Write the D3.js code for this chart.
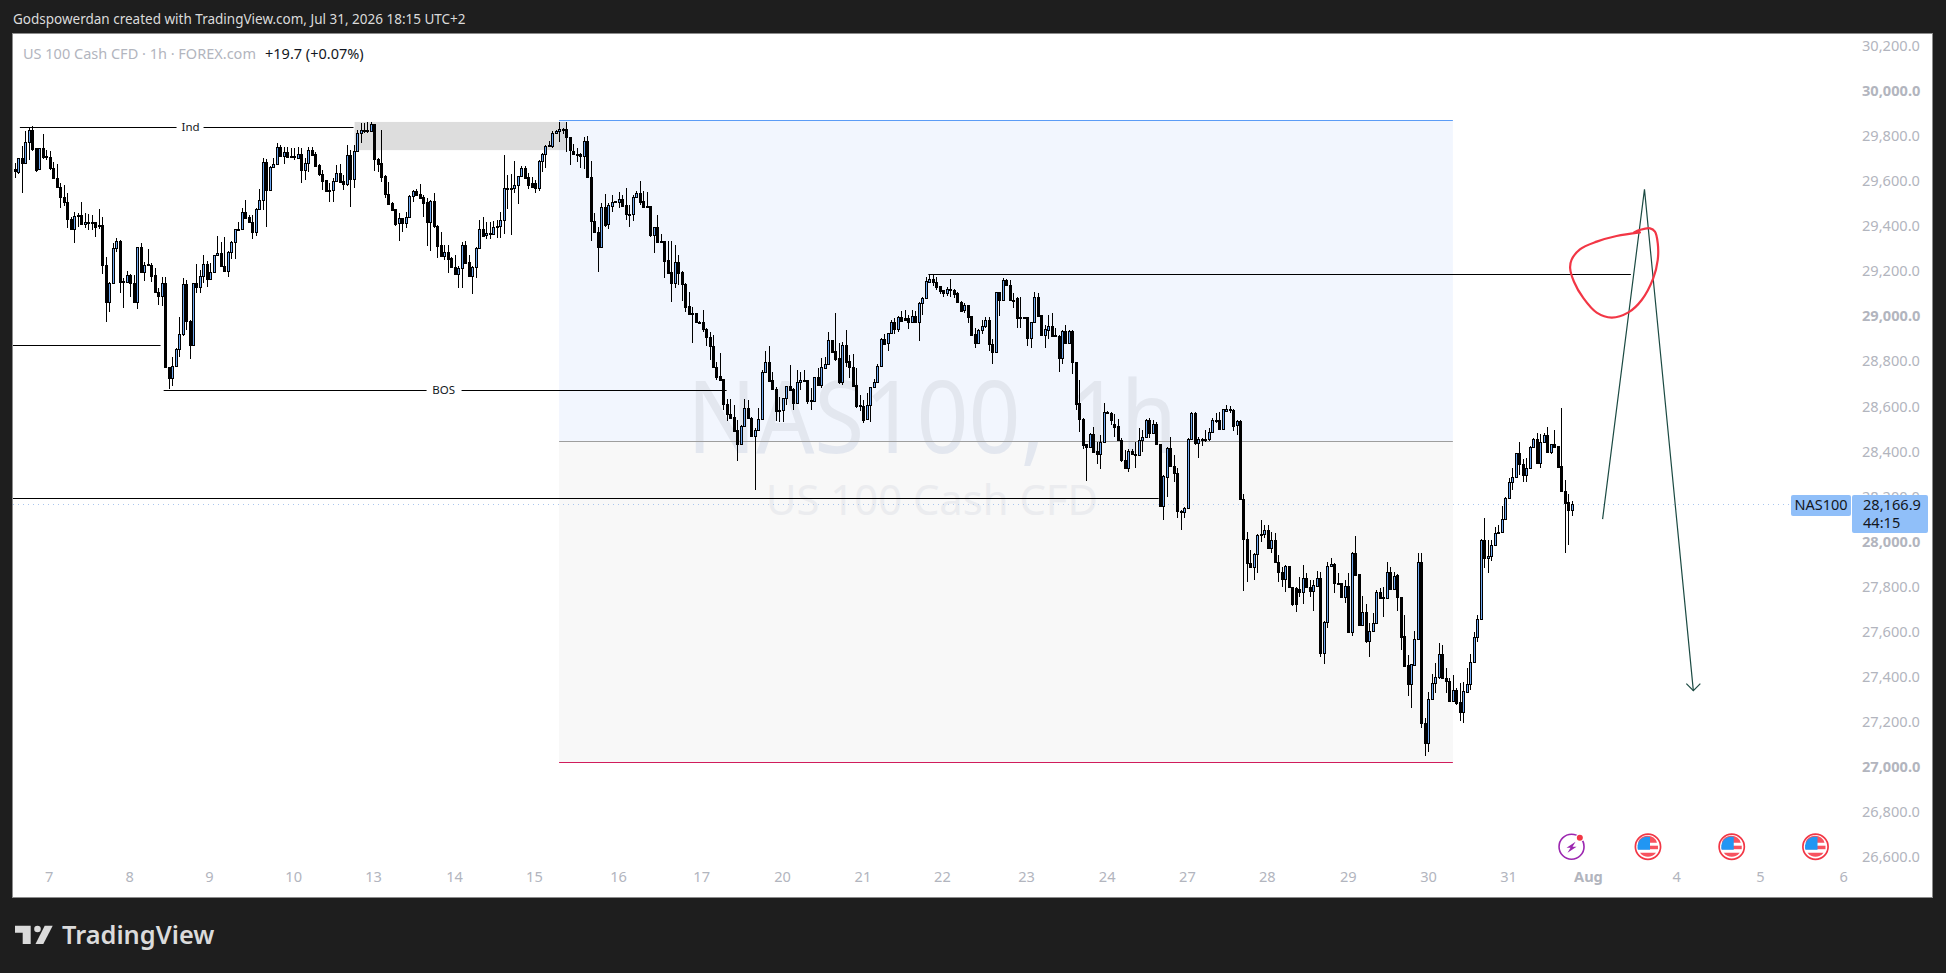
<!DOCTYPE html>
<html><head><meta charset="utf-8">
<script src="https://cdn.jsdelivr.net/npm/d3@7/dist/d3.min.js"></script>
<style>
html,body{margin:0;padding:0;background:#1e1e1e;overflow:hidden}
svg{display:block}
text{font-family:"Noto Sans",sans-serif}
</style></head><body>
<svg id="c" width="1946" height="973"></svg>
<script>
// Hourly candles [open, high, low, close], one small list per session
const s06=[[29652,29679,29612,29645],[29642,29704,29630,29701],[29701,29757,29548,29681],[29681,29822,29681,29775],[29775,29837,29693,29825],[29825,29844,29735,29741],[29745,29745,29642,29649],[29652,29748,29649,29745],[29745,29809,29696,29708],[29710,29738,29693,29705]];
const s07=[[29705,29733,29649,29656],[29656,29686,29608,29612],[29612,29674,29571,29575],[29575,29590,29482,29531],[29531,29582,29491,29505],[29505,29545,29390,29430],[29430,29442,29383,29386],[29386,29464,29324,29446],[29449,29457,29398,29446],[29449,29505,29405,29408],[29408,29457,29393,29417],[29418,29452,29383,29420],[29420,29449,29383,29420],[29417,29420,29353,29398],[29399,29476,29387,29405],[29405,29442,29186,29229],[29229,29264,28976,29065],[29065,29153,29017,29149],[29149,29324,29146,29301],[29301,29346,29284,29334],[29334,29337,29102,29153],[29158,29171,29038,29153],[29153,29201,29149,29182]];
const s08=[[29182,29186,29087,29146],[29146,29183,29057,29065],[29065,29309,29032,29306],[29306,29325,29195,29198],[29198,29239,29156,29226],[29230,29298,29224,29226],[29229,29235,29153,29180],[29182,29213,29106,29109],[29109,29124,29050,29091],[29091,29176,29047,29146],[29146,29176,28769,28773],[28773,28773,28677,28725],[28725,28821,28692,28781],[28781,28858,28776,28853],[28853,28998,28821,28920],[28920,29171,28914,29142],[29142,29161,28939,28980],[28980,28983,28810,28872],[28872,29149,28870,29146],[29146,29232,29102,29128],[29128,29205,29105,29180],[29180,29272,29146,29230],[29230,29245,29131,29164]];
const s09=[[29164,29235,29161,29198],[29198,29272,29195,29270],[29270,29358,29269,29279],[29279,29331,29220,29224],[29224,29353,29198,29202],[29202,29290,29176,29284],[29284,29334,29254,29329],[29329,29387,29254,29386],[29386,29420,29383,29387],[29387,29479,29383,29461],[29461,29516,29432,29437],[29440,29449,29417,29420],[29420,29449,29343,29375],[29375,29479,29358,29474],[29474,29565,29472,29516],[29516,29704,29472,29686],[29686,29698,29398,29562],[29562,29668,29559,29664],[29664,29701,29661,29674],[29674,29767,29671,29750],[29750,29760,29708,29713],[29713,29750,29676,29727],[29727,29750,29705,29708],[29708,29745,29705,29710]];
const s10=[[29710,29745,29695,29710],[29704,29750,29701,29718],[29718,29745,29593,29650],[29650,29704,29605,29679],[29679,29750,29642,29736],[29736,29750,29712,29715],[29718,29727,29664,29667],[29670,29674,29624,29630],[29630,29649,29560,29602],[29605,29605,29550,29556],[29558,29590,29508,29559],[29559,29612,29508,29599],[29599,29671,29597,29634],[29634,29674,29594,29597],[29600,29627,29560,29585],[29585,29760,29579,29714],[29714,29738,29486,29608],[29608,29760,29571,29732],[29732,29826,29730,29812],[29812,29856,29767,29825],[29825,29856,29812,29825],[29825,29860,29812,29822],[29822,29860,29819,29853]];
const s13=[[29853,29853,29645,29696],[29696,29701,29639,29677],[29679,29826,29597,29619],[29622,29627,29526,29544],[29544,29597,29497,29500],[29501,29505,29470,29471],[29474,29477,29402,29409],[29412,29457,29334,29435],[29435,29438,29375,29415],[29415,29464,29390,29439],[29439,29538,29437,29532],[29532,29562,29505,29554],[29554,29565,29535,29538],[29541,29587,29523,29526],[29528,29538,29442,29504],[29507,29523,29313,29420],[29420,29516,29290,29511],[29511,29545,29390,29402],[29402,29405,29257,29313],[29316,29375,29263,29269],[29269,29316,29250,29284],[29284,29316,29190,29256],[29258,29264,29215,29217]];
const s14=[[29220,29272,29186,29189],[29189,29225,29124,29213],[29213,29331,29124,29315],[29315,29334,29232,29235],[29239,29272,29177,29180],[29180,29223,29100,29217],[29217,29306,29168,29301],[29301,29427,29298,29386],[29386,29442,29355,29358],[29361,29417,29343,29368],[29368,29420,29343,29366],[29364,29423,29361,29395],[29395,29427,29349,29399],[29399,29461,29349,29426],[29426,29715,29364,29568],[29568,29627,29476,29571],[29571,29630,29361,29568],[29568,29689,29547,29581],[29581,29624,29498,29621],[29621,29667,29618,29658],[29658,29668,29612,29615],[29617,29634,29565,29582],[29590,29619,29570,29574]];
const s15=[[29590,29605,29547,29571],[29571,29693,29556,29687],[29687,29723,29639,29720],[29720,29760,29659,29754],[29754,29778,29752,29758],[29755,29823,29745,29812],[29812,29826,29809,29822],[29822,29860,29772,29829],[29829,29834,29809,29830],[29829,29860,29730,29794],[29794,29797,29671,29738],[29735,29764,29718,29718],[29718,29745,29686,29720],[29720,29723,29656,29710],[29710,29795,29653,29776],[29776,29800,29616,29619],[29619,29689,29334,29423],[29423,29457,29372,29375],[29375,29398,29198,29309],[29309,29501,29304,29483],[29483,29542,29398,29405],[29408,29501,29387,29494],[29491,29538,29464,29505],[29505,29513,29505,29511]];
const s16=[[29508,29550,29482,29519],[29519,29538,29486,29491],[29494,29568,29427,29452],[29452,29494,29398,29452],[29452,29538,29423,29528],[29528,29556,29523,29545],[29545,29600,29494,29508],[29511,29556,29482,29486],[29486,29550,29486,29489],[29489,29491,29350,29361],[29361,29398,29281,29395],[29395,29449,29328,29331],[29333,29363,29331,29334],[29333,29334,29171,29247],[29248,29334,29190,29193],[29195,29334,29065,29149],[29149,29316,29127,29239],[29239,29272,29139,29193],[29196,29201,29068,29142],[29143,29146,29020,29043],[29044,29109,29006,29010],[29010,29043,28883,29013],[29013,29016,28973,28976],[28976,28980,28970,28976]];
const s17=[[28976,29028,28932,28942],[28942,28947,28870,28906],[28908,28932,28806,28867],[28868,28917,28773,28776],[28776,28799,28717,28732],[28733,28836,28717,28717],[28720,28720,28584,28612],[28612,28633,28537,28565],[28566,28633,28547,28550],[28551,28606,28491,28492],[28495,28540,28359,28433],[28433,28518,28432,28515],[28515,28631,28512,28592],[28592,28628,28544,28547],[28549,28555,28466,28470],[28470,28503,28229,28494],[28494,28592,28491,28543],[28543,28762,28540,28753],[28753,28846,28747,28796],[28796,28868,28710,28714],[28716,28754,28673,28676],[28677,28688,28537,28581],[28581,28643,28532,28584]];
const s20=[[28584,28639,28532,28636],[28636,28692,28606,28689],[28692,28784,28673,28674],[28677,28680,28584,28614],[28614,28762,28609,28707],[28707,28754,28673,28716],[28716,28762,28713,28716],[28716,28717,28611,28624],[28624,28680,28584,28628],[28624,28732,28621,28729],[28729,28769,28692,28695],[28695,28816,28680,28773],[28772,28821,28769,28787],[28787,28929,28784,28893],[28893,28895,28840,28843],[28844,29013,28801,28809],[28813,28880,28698,28710],[28710,28887,28695,28873],[28873,28939,28776,28799],[28801,28828,28725,28776],[28776,28832,28688,28692],[28695,28769,28594,28603],[28603,28651,28580,28606]];
const s21=[[28603,28628,28527,28539],[28542,28658,28541,28604],[28604,28687,28532,28684],[28684,28720,28680,28706],[28706,28786,28702,28779],[28779,28902,28776,28897],[28897,28921,28876,28878],[28880,28927,28847,28924],[28924,28983,28921,28973],[28973,28990,28919,28942],[28942,29001,28931,28995],[28995,29023,28978,28980],[28990,29027,28980,28983],[28990,29005,28942,28976],[28976,29027,28973,28999],[28999,29023,28973,28976],[28976,29064,28890,29058],[29057,29084,29005,29079],[29079,29175,29076,29156],[29153,29186,29150,29163],[29163,29186,29135,29150],[29150,29172,29116,29131],[29132,29135,29097,29112]];
const s22=[[29115,29116,29084,29101],[29101,29131,29089,29123],[29123,29165,29087,29115],[29116,29123,29082,29100],[29101,29106,29060,29063],[29064,29067,29020,29023],[29026,29060,29013,29050],[29050,29052,28971,28998],[29001,29002,28916,28918],[28919,28949,28857,28882],[28882,28942,28879,28939],[28937,28983,28919,28956],[28955,28998,28950,28983],[28983,28995,28847,28878],[28879,28899,28789,28842],[28842,29109,28839,29106],[29106,29109,29002,29070],[29070,29168,29067,29159],[29159,29165,29135,29138],[29138,29160,29067,29070],[29070,29101,29035,29070],[29083,29087,28949,28993],[28993,29087,28946,28995],[28995,28998,28990,28995]];
const s23=[[28995,28998,28868,28902],[28902,28976,28860,28973],[28973,29109,28968,29084],[29084,29101,29000,29002],[29004,29005,28913,28918],[28918,28961,28860,28942],[28940,29005,28899,28955],[28955,29013,28909,28913],[28915,28946,28909,28913],[28913,28916,28754,28816],[28816,28939,28788,28934],[28934,28961,28879,28882],[28882,28939,28879,28934],[28934,28939,28743,28795],[28797,28798,28584,28612],[28613,28717,28488,28542],[28542,28547,28411,28428],[28433,28433,28269,28421],[28421,28480,28418,28476],[28476,28510,28396,28399],[28402,28443,28343,28387],[28387,28473,28322,28443],[28443,28613,28440,28573]];
const s24=[[28573,28580,28568,28571],[28570,28576,28517,28539],[28522,28564,28465,28510],[28511,28544,28449,28452],[28453,28458,28354,28360],[28362,28406,28322,28325],[28325,28409,28310,28403],[28403,28411,28384,28387],[28387,28443,28325,28384],[28384,28502,28381,28453],[28453,28495,28399,28462],[28462,28544,28458,28539],[28540,28547,28458,28480],[28480,28540,28477,28520],[28520,28532,28429,28432],[28432,28433,28155,28158],[28158,28295,28096,28291],[28288,28418,28199,28414],[28414,28466,28332,28335],[28335,28384,28266,28303],[28303,28325,28103,28137],[28137,28140,28051,28130],[28130,28155,28103,28148]];
const s27=[[28148,28458,28145,28454],[28454,28574,28451,28569],[28572,28574,28429,28439],[28439,28463,28372,28457],[28457,28458,28424,28454],[28454,28495,28443,28457],[28454,28503,28446,28485],[28485,28547,28480,28540],[28540,28572,28525,28537],[28540,28576,28498,28501],[28501,28588,28498,28587],[28581,28606,28576,28587],[28587,28602,28572,28587],[28584,28587,28491,28514],[28516,28540,28473,28534],[28534,28540,28185,28188],[28188,28211,27782,28010],[28010,28044,27822,27904],[27904,27963,27881,27886],[27886,27948,27830,27945],[27944,28034,27862,28029],[28029,28096,28000,28032],[28032,28074,28014,28050]];
const s28=[[28051,28074,27970,27973],[27973,28044,27951,28006],[28007,28037,27907,27911],[27911,27941,27822,27864],[27867,27889,27797,27834],[27834,27896,27778,27890],[27890,27892,27793,27797],[27797,27800,27716,27722],[27793,27800,27686,27722],[27788,27844,27756,27775],[27775,27896,27723,27837],[27837,27859,27793,27797],[27797,27830,27753,27782],[27782,27830,27694,27807],[27805,27871,27797,27837],[27837,27867,27489,27507],[27507,27648,27455,27645],[27645,27911,27615,27892],[27892,27926,27889,27899],[27899,27906,27770,27815],[27815,27859,27812,27815],[27815,27818,27753,27756],[27756,27830,27726,27804]];
const s29=[[27804,27859,27597,27600],[27600,27954,27581,27951],[27951,28025,27847,27852],[27855,27858,27625,27630],[27630,27759,27627,27686],[27686,27723,27549,27560],[27560,27637,27489,27603],[27603,27682,27600,27637],[27637,27785,27634,27775],[27775,27793,27745,27748],[27748,27800,27664,27753],[27748,27908,27745,27864],[27864,27889,27785,27790],[27790,27867,27787,27849],[27852,27855,27694,27753],[27753,27756,27519,27578],[27581,27674,27445,27449],[27452,27497,27315,27367],[27367,27458,27263,27455],[27452,27605,27449,27566],[27566,27948,27563,27908],[27908,27948,27171,27194],[27194,27216,27050,27105]];
const s30=[[27105,27334,27068,27300],[27300,27412,27297,27371],[27371,27460,27327,27398],[27398,27549,27390,27500],[27500,27541,27390,27393],[27393,27438,27327,27381],[27381,27393,27290,27293],[27294,27408,27290,27340],[27340,27349,27275,27285],[27288,27371,27205,27245],[27245,27379,27194,27336],[27334,27438,27331,27368],[27368,27500,27342,27467],[27467,27600,27464,27577],[27575,27674,27553,27655],[27655,28013,27652,28007],[28007,28103,27881,27926],[27926,28007,27859,27938],[27938,28007,27914,27983],[27983,28066,27980,28037],[28037,28074,28037,28041],[28041,28158,28040,28099],[28099,28196,28096,28192]];
const s31=[[28192,28281,28189,28263],[28263,28325,28229,28288],[28288,28395,28285,28392],[28392,28443,28295,28344],[28344,28365,28263,28295],[28295,28369,28266,28325],[28325,28424,28322,28420],[28420,28458,28417,28455],[28455,28480,28347,28350],[28350,28477,28325,28440],[28440,28480,28437,28473],[28473,28507,28396,28399],[28399,28433,28389,28432],[28432,28495,28418,28421],[28424,28426,28329,28332],[28335,28591,28225,28226],[28226,28273,27948,28171],[28174,28210,27985,28139],[28139,28182,28115,28167]];
const sessions=[s06,s07,s08,s09,s10,s13,s14,s15,s16,s17,s20,s21,s22,s23,s24,s27,s28,s29,s30,s31];

// axes
const priceTicks=[30200,30000,29800,29600,29400,29200,29000,28800,28600,28400,28200,28000,27800,27600,27400,27200,27000,26800,26600];
const timeLabels=["7","8","9","10","13","14","15","16","17","20","21","22","23","24","27","28","29","30","31","Aug","4","5","6"];
const timeBars=[9.65,32.7,55.6,79.7,102.6,125.8,148.7,172.8,196.6,219.8,242.8,265.6,289.7,312.8,335.8,358.7,381.9,404.9,427.8,450.7,476,500,523.8];

// drawings: bar index and price
const hiLevel=[1.4,97,29838], hiLabelBar=50.3;
const swingLevel=[-0.7,41.7,28874];
const bosLevel=[42.6,203.9,28673], bosLabelBar=122.8;
const lowLevel=[-0.7,327.7,28192];
const resistance=[261.7,463,29186];
const supplyZone=[97.3,158,29862,29737];
const positionBars=[155.9,412];
const positionPrices=[29869,28445,27021];
const pathBars=[454.9,466.9,480.9];
const pathPrices=[28100,29563,27339];
const loopBars=[465.6,458.9,453.2,448.4,446.0,445.6,446.7,449.4,453.2,457.5,462.3,466.1,469.4,470.7,470.7,469.9,468.5,465.6,463.9];
const loopPrices=[29372,29356,29331,29297,29250,29213,29153,29080,29016,28994,29017,29072,29168,29250,29324,29375,29390,29383,29372];
const lastPrice=28166.9;
const eventBars=[446,467.9,491.9,515.9];

const candles=sessions.flat().map((r,i)=>({i,o:r[0],h:r[1],l:r[2],c:r[3]}));
const x=d3.scaleLinear().domain([0,446]).range([15,15+3.49*446]);
const y=d3.scaleLinear().domain([27000,29600]).range([767,181]);
const svg=d3.select("#c");
const INK="#131722", AX="#b2b5be";

svg.append("rect").attr("width",1946).attr("height",973).attr("fill","#1e1e1e");
svg.append("rect").attr("x",12.5).attr("y",33.5).attr("width",1920).attr("height",864).attr("fill","#fff").attr("stroke","#8c8c8c");
svg.append("defs").append("clipPath").attr("id","plot").append("rect").attr("x",13).attr("y",34).attr("width",1850).attr("height",863);

// position tool
svg.append("rect").attr("x",x(positionBars[0])).attr("width",x(positionBars[1])-x(positionBars[0])).attr("y",y(positionPrices[0])).attr("height",y(positionPrices[1])-y(positionPrices[0])).attr("fill","#f2f6fe");
svg.append("rect").attr("x",x(positionBars[0])).attr("width",x(positionBars[1])-x(positionBars[0])).attr("y",y(positionPrices[1])).attr("height",y(positionPrices[2])-y(positionPrices[1])).attr("fill","#f8f8f8");

// watermark
svg.append("text").attr("x",932).attr("y",453).attr("text-anchor","middle").attr("font-size",100).attr("textLength",490).attr("lengthAdjust","spacingAndGlyphs").attr("fill","#e3e7ef").text("NAS100, 1h");
svg.append("text").attr("x",932).attr("y",515).attr("text-anchor","middle").attr("font-size",41).attr("textLength",332).attr("lengthAdjust","spacingAndGlyphs").attr("fill","#ebecef").text("US 100 Cash CFD");

// supply zone
svg.append("rect").attr("x",x(supplyZone[0])).attr("width",x(supplyZone[1])-x(supplyZone[0])).attr("y",y(supplyZone[2])).attr("height",y(supplyZone[3])-y(supplyZone[2])).attr("fill","#b8b8b8").attr("fill-opacity",0.48);

// position lines
const hl=(x1,x2,py,color,w)=>svg.append("line").attr("x1",x1).attr("x2",x2).attr("y1",Math.round(y(py))+0.5).attr("y2",Math.round(y(py))+0.5).attr("stroke",color).attr("stroke-width",w||1);
positionPrices.forEach((p,i)=>hl(x(positionBars[0]),x(positionBars[1]),p,["#5b9cf6","#9e9e9e","#d01c5c"][i]));

// price line
svg.append("line").attr("x1",13).attr("x2",1791).attr("y1",Math.round(y(lastPrice))+0.5).attr("y2",Math.round(y(lastPrice))+0.5).attr("stroke","#a9c6ef").attr("stroke-dasharray","1 4");

// horizontal level lines
[swingLevel,lowLevel,resistance].forEach(l=>hl(Math.max(13,x(l[0])),x(l[1]),l[2],"#000"));
hl(x(hiLevel[0]),x(hiLabelBar)-14,hiLevel[2],"#000");
hl(x(hiLabelBar)+13,x(hiLevel[1]),hiLevel[2],"#000");
hl(x(bosLevel[0]),x(bosLabelBar)-17,bosLevel[2],"#000");
hl(x(bosLabelBar)+18,x(bosLevel[1]),bosLevel[2],"#000");
svg.append("text").attr("x",x(hiLabelBar)).attr("y",y(hiLevel[2])+4).attr("text-anchor","middle").attr("font-size",11.5).attr("fill",INK).text("Ind");
svg.append("text").attr("x",x(bosLabelBar)).attr("y",y(bosLevel[2])+4).attr("text-anchor","middle").attr("font-size",11.5).attr("fill",INK).text("BOS");

// candles
const g=svg.append("g").attr("clip-path","url(#plot)").attr("shape-rendering","crispEdges");
g.selectAll("rect.w").data(candles).join("rect").attr("class","w")
 .attr("x",d=>Math.round(x(d.i))).attr("width",1)
 .attr("y",d=>Math.round(y(d.h))).attr("height",d=>Math.max(1,Math.round(y(d.l))-Math.round(y(d.h)))).attr("fill","#000");
const bodyTop=d=>Math.round(y(Math.max(d.o,d.c))), bodyBot=d=>Math.round(y(Math.min(d.o,d.c)));
g.selectAll("rect.b").data(candles).join("rect").attr("class","b")
 .attr("x",d=>Math.round(x(d.i))-1).attr("width",3)
 .attr("y",bodyTop).attr("height",d=>Math.max(2,bodyBot(d)-bodyTop(d)+1)).attr("fill","#000");
g.selectAll("rect.f").data(candles.filter(d=>d.c>=d.o&&bodyBot(d)-bodyTop(d)>=2)).join("rect").attr("class","f")
 .attr("x",d=>Math.round(x(d.i))).attr("width",1)
 .attr("y",d=>bodyTop(d)+1).attr("height",d=>bodyBot(d)-bodyTop(d)-1).attr("fill","#6ea8f2");

// path + arrow
const pathPts=pathBars.map((b,i)=>[x(b),y(pathPrices[i])]);
svg.append("path").attr("d",d3.line()(pathPts)).attr("fill","none").attr("stroke","#1b4a42").attr("stroke-width",1.2);
const tip=pathPts[2];
svg.append("path").attr("d",`M${tip[0]-7},${tip[1]-7}L${tip[0]},${tip[1]}L${tip[0]+7},${tip[1]-7}`).attr("fill","none").attr("stroke","#1b4a42").attr("stroke-width",1.2);

// hand-drawn loop
svg.append("path").attr("d",d3.line().curve(d3.curveCatmullRom)(loopBars.map((b,i)=>[x(b),y(loopPrices[i])]))).attr("fill","none").attr("stroke","#f23645").attr("stroke-width",2.2).attr("stroke-linecap","round");

// event markers
const ev=svg.append("g");
eventBars.forEach((b,i)=>{
  const cx=x(b), cy=846.7;
  const m=ev.append("g").attr("transform",`translate(${cx},${cy})`);
  if(i===0){
    m.append("circle").attr("r",12.5).attr("fill","#fff").attr("stroke","#9c27b0").attr("stroke-width",1.6);
    m.append("path").attr("d","M4,-5L-5,1L-1,1L-4,6L5,0L1,0Z").attr("fill","#9c27b0");
    m.append("circle").attr("cx",8.3).attr("cy",-9).attr("r",4).attr("fill","#fff");
    m.append("circle").attr("cx",8.3).attr("cy",-9).attr("r",3).attr("fill","#f23645");
  } else {
    m.append("circle").attr("r",12.6).attr("fill","#fff").attr("stroke","#f23645").attr("stroke-width",1.7);
    const c=m.append("g");
    c.append("path").attr("d","M-10,-4A10,10 0 0 1 9,-4L9,-4Z").attr("fill","#f7525f");
    c.append("rect").attr("x",-10).attr("y",-1).attr("width",20).attr("height",3.5).attr("fill","#f7525f");
    c.append("path").attr("d","M-8,6L8,6A10,10 0 0 1 -8,6Z").attr("fill","#f7525f");
    c.append("path").attr("d","M-10,3A10,10 0 0 1 -1,-10L2,-10L2,3Z").attr("fill","#2196f3");
  }
});

// axes
const ya=svg.append("g").attr("transform","translate(1862,0)").call(d3.axisRight(y).tickValues(priceTicks).tickSize(0).tickPadding(0).tickFormat(d3.format(",.1f")));
ya.select(".domain").remove();
ya.selectAll("text").attr("font-size",14.6).attr("fill",AX).attr("font-family",'"Noto Sans",sans-serif').attr("font-weight",d=>d%1000===0?700:400);
const xa=svg.append("g").attr("transform","translate(0,872)").call(d3.axisBottom(x).tickValues(timeBars).tickSize(0).tickPadding(0).tickFormat((d,i)=>timeLabels[i]));
xa.select(".domain").remove();
xa.selectAll("text").attr("font-size",14.6).attr("fill",AX).attr("font-family",'"Noto Sans",sans-serif').attr("font-weight",(d,i)=>timeLabels[i]==="Aug"?700:400);

// last price tags
svg.append("rect").attr("x",1791).attr("y",495).attr("width",60).attr("height",21).attr("rx",2).attr("fill","#90bff9");
svg.append("rect").attr("x",1852).attr("y",495).attr("width",76).attr("height",38).attr("rx",2).attr("fill","#90bff9");
svg.append("text").attr("x",1821).attr("y",510).attr("text-anchor","middle").attr("font-size",14.5).attr("fill",INK).text("NAS100");
svg.append("text").attr("x",1863).attr("y",510).attr("font-size",14.6).attr("fill",INK).text(d3.format(",.1f")(lastPrice));
svg.append("text").attr("x",1863).attr("y",528).attr("font-size",14.6).attr("fill",INK).text("44:15");

// legend
svg.append("text").attr("x",23).attr("y",59).attr("font-size",14.5).attr("fill",AX).text("US 100 Cash CFD · 1h · FOREX.com");
svg.append("text").attr("x",265).attr("y",59).attr("font-size",14.5).attr("fill",INK).text("+19.7 (+0.07%)");

// header & footer
svg.append("text").attr("x",13).attr("y",24).attr("font-size",13.5).attr("fill","#dbdbdb").text("Godspowerdan created with TradingView.com, Jul 31, 2026 18:15 UTC+2");
const logo=svg.append("g").attr("fill","#dbdbdb");
logo.append("path").attr("d","M15,925.7H30.7V944H22.7V932.7H15Z");
logo.append("circle").attr("cx",37.5).attr("cy",929).attr("r",3.3);
logo.append("path").attr("d","M44.7,925.7H52.7L43.3,944H35.5Z");
svg.append("text").attr("x",62).attr("y",944).attr("font-size",25.4).attr("font-weight",600).attr("font-family","Inter,sans-serif").attr("fill","#dbdbdb").text("TradingView");
</script>
</body></html>
